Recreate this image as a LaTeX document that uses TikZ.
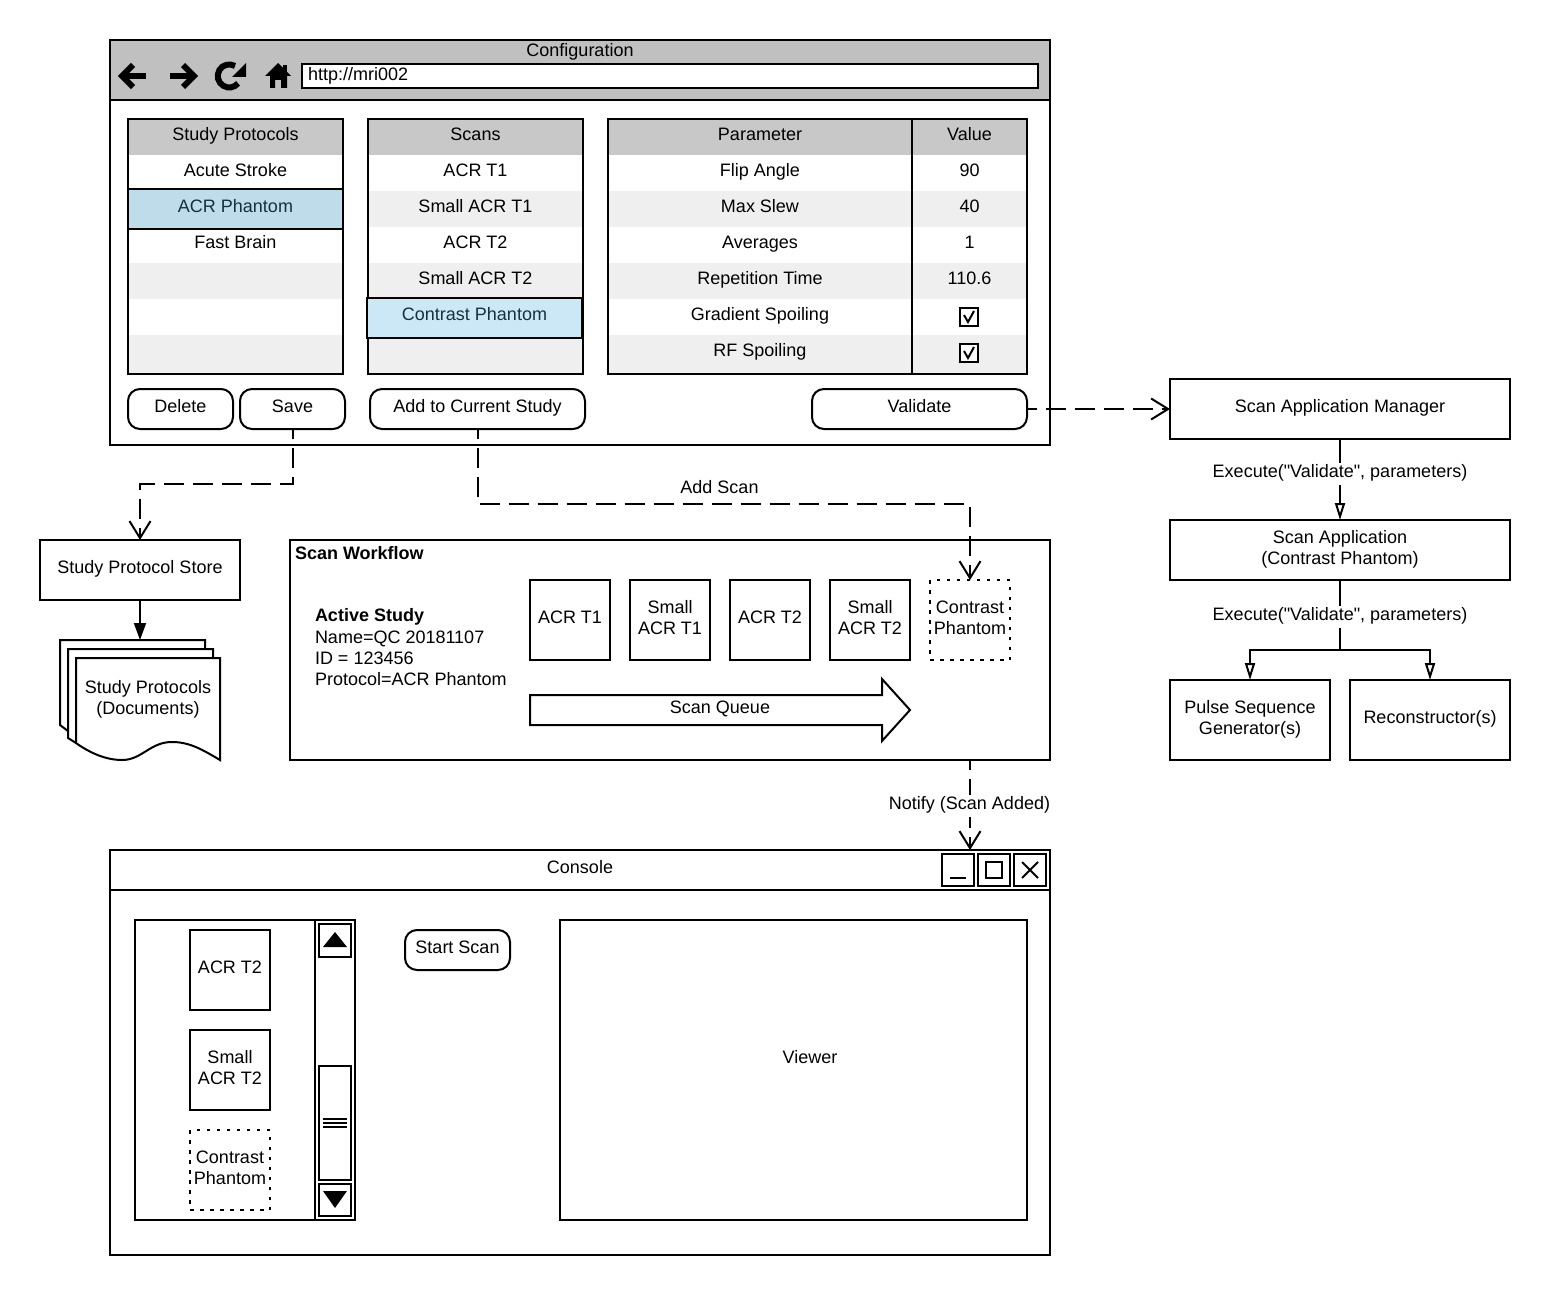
\documentclass[tikz,border=0pt]{standalone}
\usepackage{fontspec}
\setmainfont{Liberation Sans}[Ligatures=TeXOff]
\usetikzlibrary{arrows.meta}
\definecolor{hdrgray}{HTML}{C0C0C0}
\definecolor{colgray}{HTML}{C8C8C8}
\definecolor{rowgray}{HTML}{EFEFEF}
\definecolor{selA}{HTML}{BEDCEA}
\definecolor{selB}{HTML}{CCE8F6}
\definecolor{seltext}{HTML}{17303D}
\newcommand\tx[1]{\raisebox{1pt}[\height][\depth]{\begin{tabular}{@{}c@{}}#1\end{tabular}}}
\newcommand\txb[1]{\begin{tabular}{@{}c@{}}#1\end{tabular}}
\newcommand\txl[1]{\raisebox{1pt}[\height][\depth]{\begin{tabular}{@{}l@{}}#1\end{tabular}}}
\newcommand\up[1]{\raisebox{1pt}[\height][\depth]{#1}}
% \rect[style]{name}{x1}{y1}{x2}{y2}{text}
\newcommand\rect[7][]{\node[plain,#1,minimum width={#5-#3},minimum height={#6-#4}] (#2) at ({(#3+#5)/2},{(#4+#6)/2}) {\tx{#7}};}
% \rectb: same, for two-line text
\newcommand\rectb[7][]{\node[plain,#1,minimum width={#5-#3},minimum height={#6-#4}] (#2) at ({(#3+#5)/2},{(#4+#6)/2}) {\txb{#7}};}
\tikzset{
  plain/.style={inner sep=0pt,outer sep=0pt,line width=2pt,anchor=center},
  frame/.style={draw=black},
  whitebox/.style={draw=black,fill=white},
  dotbox/.style={draw=black,fill=white,dash pattern=on 3.5pt off 6.5pt},
  pill/.style={draw=black,fill=white,rounded corners=12pt},
  rowg/.style={fill=rowgray},
  rowh/.style={fill=colgray},
  txt/.style={inner sep=0pt,outer sep=0pt},
  lab/.style={inner sep=0pt,fill=white,minimum height=22pt},
  link/.style={line width=2pt},
  dashlink/.style={line width=2pt,dash pattern=on 20pt off 9pt,dash phase=10pt,-{Straight Barb[length=17pt,width=21pt,line width=2pt]}},
  openhead/.style={line width=2pt,-{Triangle[open,fill=white,length=17pt,width=10pt,line width=2pt]}},
  ico/.style={line width=5.5pt,line cap=butt,line join=miter},
  every node/.style={font=\fontsize{18}{21.4}\selectfont},
}
\begin{document}
\begin{tikzpicture}[x=1pt,y=-1pt,line width=2pt]
\useasboundingbox (0,0) rectangle (1550,1295);
\fill[white] (0,0) rectangle (1550,1295);

%% Configuration window
\rect[frame,fill=white]{cfg}{110}{40}{1050}{445}{}
\rect[frame,fill=hdrgray]{cfghead}{110}{40}{1050}{100}{}
\node[txt] (cfgtitle) at (580,53) {\tx{Configuration}};
\draw[ico] (146,76)--(124,76);
\draw[ico,line width=6pt] (133,65)--(122,76)--(133,87);
\draw[ico] (170,76)--(192,76);
\draw[ico,line width=6pt] (183,65)--(194,76)--(183,87);
\draw[line width=6pt] (235,66) arc[start angle=-60,end angle=-320,radius=11.5];
\fill (246,63)--(246,77)--(232,77)--cycle;
\fill (278,63)--(291,76)--(287,76)--(287,88)--(281,88)--(281,80)--(275,80)--(275,88)--(270,88)--(270,76)--(265,76)--cycle;
\fill (283,65) rectangle (287,72);
\rect[whitebox]{url}{302}{64}{1038}{88}{}
\node[txt,anchor=west] (urltext) at (308,77) {\txl{http://mri002}};

%% Study Protocols table
\rect[rowh]{sph}{128}{119}{343}{155}{Study Protocols}
\rect{sp1}{128}{155}{343}{191}{Acute Stroke}
\rect[rowg]{sp2}{128}{191}{343}{227}{}
\rect{sp3}{128}{227}{343}{263}{Fast Brain}
\rect[rowg]{sp4}{128}{263}{343}{299}{}
\rect{sp5}{128}{299}{343}{335}{}
\rect[rowg]{sp6}{128}{335}{343}{374}{}
\rect[frame]{spf}{128}{119}{343}{374}{}
\rect[frame,fill=selA,text=seltext]{spsel}{128}{189}{343}{229}{ACR Phantom}

%% Scans table
\rect[rowh]{sch}{368}{119}{583}{155}{Scans}
\rect{sc1}{368}{155}{583}{191}{ACR T1}
\rect[rowg]{sc2}{368}{191}{583}{227}{Small ACR T1}
\rect{sc3}{368}{227}{583}{263}{ACR T2}
\rect[rowg]{sc4}{368}{263}{583}{299}{Small ACR T2}
\rect{sc5}{368}{299}{583}{335}{}
\rect[rowg]{sc6}{368}{335}{583}{374}{}
\rect[frame]{scf}{368}{119}{583}{374}{}
\rect[frame,fill=selB,text=seltext]{scsel}{367}{298}{582}{338}{\up{Contrast Phantom}}

%% Parameter table
\rect[rowh]{pah}{608}{119}{912}{155}{Parameter}
\rect[rowh]{vah}{912}{119}{1027}{155}{Value}
\rect{pa1}{608}{155}{912}{191}{Flip Angle}
\rect{va1}{912}{155}{1027}{191}{90}
\rect[rowg]{pa2}{608}{191}{912}{227}{Max Slew}
\rect[rowg]{va2}{912}{191}{1027}{227}{40}
\rect{pa3}{608}{227}{912}{263}{Averages}
\rect{va3}{912}{227}{1027}{263}{1}
\rect[rowg]{pa4}{608}{263}{912}{299}{Repetition Time}
\rect[rowg]{va4}{912}{263}{1027}{299}{110.6}
\rect{pa5}{608}{299}{912}{335}{Gradient Spoiling}
\rect{va5}{912}{299}{1027}{335}{}
\rect[rowg]{pa6}{608}{335}{912}{374}{\up{RF Spoiling}}
\rect[rowg]{va6}{912}{335}{1027}{374}{}
\rect[frame]{paf}{608}{119}{912}{374}{}
\rect[frame]{vaf}{912}{119}{1027}{374}{}
\rect[whitebox]{chk1}{960}{308}{978}{326}{}
\rect[whitebox]{chk2}{960}{344}{978}{362}{}
\draw[line width=2pt] (964,315)--(968,322)--(974,311);
\draw[line width=2pt] (964,351)--(968,358)--(974,347);

%% Buttons
\rect[pill]{del}{128}{389}{233}{429}{Delete}
\rect[pill]{save}{240}{389}{345}{429}{Save}
\rect[pill]{add}{370}{389}{585}{429}{Add to Current Study}
\rect[pill]{validate}{812}{389}{1027}{429}{Validate}

%% Right column
\rect[frame]{mgr}{1170}{379}{1510}{439}{Scan Application Manager}
\rectb[frame]{app}{1170}{520}{1510}{580}{Scan Application\\(Contrast Phantom)}
\rectb[frame]{pulse}{1170}{680}{1330}{760}{Pulse Sequence\\Generator(s)}
\rect[frame]{recon}{1350}{680}{1510}{760}{Reconstructor(s)}

%% Store and documents
\rect[frame]{store}{40}{540}{240}{600}{Study Protocol Store}
\coordinate (docs) at (140,640);
\draw[fill=white] (60,640)--(205,640)--(205,700)--(68,731)--(60,725)--cycle;
\draw[fill=white] (68,649)--(213,649)--(213,700)--(76,743)--(68,738)--cycle;
\draw[fill=white] (76,658)--(220,658)--(220,760) .. controls (203,750) and (190,742) .. (172,742) .. controls (150,742) and (142,760) .. (122,760) .. controls (106,760) and (90,753) .. (76,743)--cycle;
\node[txt] (docstext) at (148,701) {\tx{Study Protocols\\(Documents)}};

%% Scan Workflow
\rect[frame]{wf}{290}{540}{1050}{760}{}
\node[txt,anchor=west] (wftitle) at (295,556.5) {\txl{\bfseries Scan Workflow}};
\node[txt,anchor=west] (active) at (315,650.5) {\txl{\bfseries Active Study\\Name=QC 20181107\\ID = 123456\\Protocol=ACR Phantom}};
\rect[frame]{q1}{530}{580}{610}{660}{ACR T1}
\rectb[frame]{q2}{630}{580}{710}{660}{Small\\ACR T1}
\rect[frame]{q3}{730}{580}{810}{660}{ACR T2}
\rectb[frame]{q4}{830}{580}{910}{660}{Small\\ACR T2}
\rectb[dotbox]{q5}{930}{580}{1010}{660}{Contrast\\Phantom}
\draw[fill=white] (530,695)--(882,695)--(882,679)--(910,710)--(882,741)--(882,725)--(530,725)--cycle;
\node[txt] (queue) at (720,710.5) {\tx{Scan Queue}};

%% Console
\rect[frame]{con}{110}{850}{1050}{1255}{}
\rect[frame]{conhead}{110}{850}{1050}{890}{}
\node[txt] (contitle) at (580,870.5) {\tx{Console}};
\rect[frame]{bmin}{942}{854}{974}{886}{}
\rect[frame]{bmax}{978}{854}{1010}{886}{}
\rect[frame]{bclose}{1014}{854}{1046}{886}{}
\draw (950,878)--(966,878);
\draw (986,862) rectangle (1002,878);
\draw (1022,862)--(1038,878) (1038,862)--(1022,878);
\rect[frame]{list}{135}{920}{355}{1220}{}
\rect[frame]{bar}{315}{920}{355}{1220}{}
\rect[frame]{upb}{319}{924}{351}{957}{}
\rect[frame]{thumb}{319}{1066}{351}{1180}{}
\rect[frame]{dnb}{319}{1184}{351}{1216}{}
\fill (335,932)--(347,947)--(323,947)--cycle;
\fill (323,1191)--(347,1191)--(335,1208)--cycle;
\draw (323,1119)--(347,1119) (323,1123)--(347,1123) (323,1127)--(347,1127);
\rect[frame]{c1}{190}{930}{270}{1010}{ACR T2}
\rectb[frame]{c2}{190}{1030}{270}{1110}{Small\\ACR T2}
\rectb[dotbox]{c3}{190}{1130}{270}{1210}{Contrast\\Phantom}
\rect[pill]{start}{405}{930}{510}{970}{Start Scan}
\rect[frame]{viewer}{560}{920}{1027}{1220}{}
\node[txt] (viewertext) at (810,1060.5) {\tx{Viewer}};

%% Connectors
\draw[dashlink] (validate.east)--(mgr.west);
\draw[dashlink] (save.south)--++(0,55)-|(store.north);
\draw[dashlink] (add.south)--++(0,75)-|(q5.north);
\node[txt] (addscan) at (719.5,490.5) {\tx{Add Scan}};
\draw[dashlink] (wf.south-|q5.south)--(con.north-|q5.south);
\node[lab] (notify) at (969.5,806) {\tx{Notify (Scan Added)}};
\draw[link,-{Triangle[length=17pt,width=12pt]}] (store.south)--(docs);
\draw[openhead] (mgr.south)--(app.north);
\node[lab] (ex1) at (1340,474) {\tx{Execute("Validate", parameters)}};
\draw[openhead] (app.south)--++(0,70)-|(pulse.north);
\draw[openhead] (app.south)--++(0,70)-|(recon.north);
\node[lab] (ex2) at (1340,617) {\tx{Execute("Validate", parameters)}};
\end{tikzpicture}
\end{document}
